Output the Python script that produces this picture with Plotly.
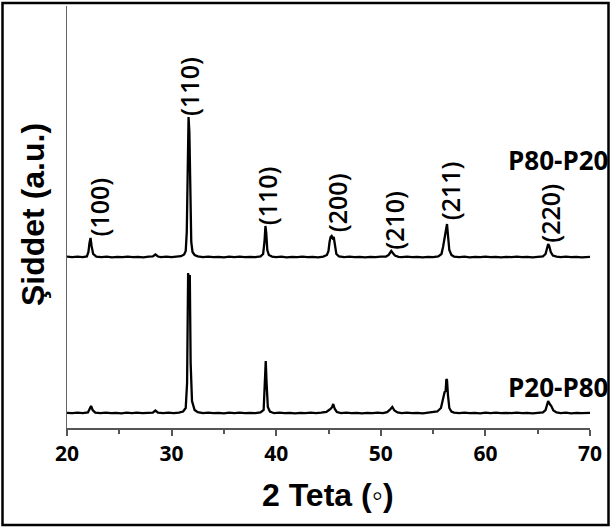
import plotly.graph_objects as go

# ---------------- data ----------------
# P80-P20 (upper pattern): 2-theta positions and intensities above its baseline (a.u.)
p80_x = [20.0, 20.5, 21.0, 21.5, 21.9, 22.05, 22.15, 22.25, 22.35, 22.5, 22.8, 23.3, 23.8, 24.3, 24.8,
         25.3, 25.8, 26.3, 26.8, 27.3, 27.8, 28.2, 28.45, 28.7, 29.0, 29.5, 30.0, 30.5, 30.9, 31.2,
         31.35, 31.45, 31.55, 31.62, 31.7, 31.78, 31.88, 32.0, 32.2, 32.5, 33.0, 33.5, 34.0, 34.5,
         35.0, 35.5, 36.0, 36.5, 37.0, 37.5, 38.0, 38.5, 38.75, 38.88, 38.97, 39.05, 39.15, 39.3,
         39.6, 40.0, 40.5, 41.0, 41.5, 42.0, 42.5, 43.0, 43.5, 44.0, 44.5, 44.85, 45.0, 45.1, 45.2,
         45.3, 45.4, 45.5, 45.6, 45.75, 46.0, 46.5, 47.0, 47.5, 48.0, 48.5, 49.0, 49.5, 50.0, 50.5,
         50.75, 50.9, 51.0, 51.15, 51.35, 51.7, 52.0, 52.5, 53.0, 53.5, 54.0, 54.5, 55.0, 55.5,
         55.8, 55.95, 56.05, 56.15, 56.25, 56.33, 56.42, 56.55, 56.75, 57.0, 57.5, 58.0, 58.5, 59.0,
         59.5, 60.0, 60.5, 61.0, 61.5, 62.0, 62.5, 63.0, 63.5, 64.0, 64.5, 65.0, 65.5, 65.75, 65.9,
         66.0, 66.1, 66.25, 66.45, 66.8, 67.2, 67.7, 68.2, 68.7, 69.2, 69.6, 70.0]
p80_y = [0.3, -0.2, 0.3, -0.2, 0.6, 5, 14, 19, 11, 3, 0.4, -0.2, 0.3, -0.3, 0.2,
         -0.2, 0.3, -0.2, 0.2, -0.3, 0.3, 0.6, 2.5, 0.5, -0.2, 0.3, -0.2, 0.3, 0.8, 2.5,
         6, 25, 90, 140, 125, 60, 15, 5, 2, 0.6, -0.2, 0.3, -0.2, 0.2,
         -0.3, 0.3, -0.2, 0.3, -0.2, 0.2, -0.2, 0.6, 3, 15, 31, 24, 7, 2,
         0.4, -0.2, 0.3, -0.3, 0.2, -0.2, 0.3, -0.2, 0.2, -0.3, 0.4, 2, 6, 15, 20,
         21, 19, 20, 12, 3, 0.6, -0.2, 0.3, -0.2, 0.2, -0.3, 0.2, -0.2, 0.3, 0.4,
         2, 5, 6, 4, 1.5, 0.2, -0.2, 0.3, -0.2, 0.2, -0.3, 0.2, -0.2, 0.6,
         3, 10, 17, 24, 32, 33, 22, 7, 2, 0.4, -0.2, 0.3, -0.3, 0.2,
         -0.2, 0.3, -0.2, 0.2, -0.3, 0.2, -0.2, 0.3, -0.2, 0.2, -0.3, 0.3, 0.6, 3, 9,
         13, 11, 5, 1.5, 0.3, -0.2, 0.3, -0.2, 0.2, -0.3, 0.2, 0.1]

# P20-P80 (lower pattern)
p20_x = [20.0, 20.5, 21.0, 21.5, 22.0, 22.15, 22.3, 22.45, 22.7, 23.2, 23.7, 24.2, 24.7, 25.2,
         25.7, 26.2, 26.7, 27.2, 27.7, 28.2, 28.45, 28.7, 29.2, 29.7, 30.2, 30.7, 31.1, 31.35,
         31.48, 31.58, 31.66, 31.74, 31.82, 31.95, 32.2, 32.5, 33.0, 33.5, 34.0, 34.5, 35.0, 35.5,
         36.0, 36.5, 37.0, 37.5, 38.0, 38.5, 38.8, 38.92, 39.0, 39.08, 39.2, 39.4, 39.8, 40.3,
         40.8, 41.3, 41.8, 42.3, 42.8, 43.3, 43.8, 44.3, 44.8, 45.05, 45.2, 45.35, 45.45, 45.6,
         45.8, 46.2, 46.7, 47.2, 47.7, 48.2, 48.7, 49.2, 49.7, 50.2, 50.6, 50.85, 51.0, 51.1,
         51.3, 51.6, 52.0, 52.5, 53.0, 53.5, 54.0, 54.5, 55.0, 55.4, 55.75, 55.9, 56.0, 56.1,
         56.2, 56.27, 56.33, 56.42, 56.55, 56.75, 57.0, 57.5, 58.0, 58.5, 59.0, 59.5, 60.0, 60.5,
         61.0, 61.5, 62.0, 62.5, 63.0, 63.5, 64.0, 64.5, 65.0, 65.5, 65.75, 65.9, 66.0, 66.15,
         66.3, 66.5, 66.8, 67.2, 67.7, 68.2, 68.7, 69.2, 69.6, 70.0]
p20_y = [0.2, -0.2, 0.3, -0.2, 0.6, 4, 7, 3, 0.4, -0.2, 0.3, -0.2, 0.2, -0.3,
         0.3, -0.2, 0.3, -0.2, 0.2, 0.4, 2.5, 0.4, -0.2, 0.3, -0.2, 0.3, 1.5, 5,
         30, 140, 132, 138, 50, 12, 3, 0.8, -0.2, 0.3, -0.2, 0.2, -0.3, 0.3,
         -0.2, 0.3, -0.2, 0.2, -0.2, 0.6, 3, 25, 52, 30, 6, 1.5, -0.2, 0.3,
         -0.2, 0.2, -0.3, 0.2, -0.2, 0.3, -0.2, 0.3, 1, 3, 4, 6, 9, 4,
         1, -0.2, 0.3, -0.2, 0.2, -0.3, 0.2, -0.2, 0.3, -0.2, 0.8, 3, 5, 6,
         2.5, 0.5, -0.2, 0.3, -0.2, 0.2, -0.3, 0.3, 0.4, 1.5, 5, 12, 19, 21,
         22, 34, 33, 18, 5, 1.5, 0.4, -0.2, 0.3, -0.2, 0.2, -0.3, 0.3, -0.2,
         0.3, -0.2, 0.2, -0.2, 0.3, -0.2, 0.2, -0.3, 0.3, 0.6, 3, 8, 12, 9,
         7, 2.5, 0.5, -0.2, 0.3, -0.3, 0.2, -0.2, 0.3, 0.1]

p80_offset = 171   # vertical stacking offset of the upper pattern
p20_offset = 15    # vertical stacking offset of the lower pattern

peak_labels = ["(100)", "(110)", "(110)", "(200)", "(210)", "(211)", "(220)"]
peak_pos = [22.2, 31.7, 39.0, 45.3, 51.0, 56.3, 66.0]

series_names = ["P80-P20", "P20-P80"]
x_ticks = [20, 30, 40, 50, 60, 70]

# ---------------- layout geometry (pixels) ----------------
W, H = 611, 528
ML, MR, MT, MB = 67, 21, 6, 100
PW, PH = W - ML - MR, H - MT - MB


def px_x(px):
    return (px - ML) / PW


def px_y(py):
    return (H - MB - py) / PH


fig = go.Figure()
fig.add_trace(go.Scatter(x=p80_x, y=[v + p80_offset for v in p80_y], mode="lines",
                         line=dict(color="black", width=2.3), name=series_names[0],
                         showlegend=False))
fig.add_trace(go.Scatter(x=p20_x, y=[v + p20_offset for v in p20_y], mode="lines",
                         line=dict(color="black", width=2.3), name=series_names[1],
                         showlegend=False))

# peak labels (rotated), placed just above the upper pattern's peaks
label_dx = [8, -1, 1, 5, 2, 3, 1]      # pixel nudges
label_dy = [0, 0, 0, 3, 0, 3, 0]
label_font = dict(family="Open Sans", size=25, color="black", weight=600)
for lab, pos, dx, dy in zip(peak_labels, peak_pos, label_dx, label_dy):
    near = [v for xv, v in zip(p80_x, p80_y) if abs(xv - pos) <= 0.4]
    top = max(near) + p80_offset
    fig.add_annotation(x=pos, y=top, text=lab, textangle=-90, showarrow=False,
                       xanchor="center", yanchor="bottom", xshift=dx, yshift=dy,
                       font=label_font, borderpad=0)

# series names
name_font = dict(family="Open Sans", size=26, color="black", weight="bold")
fig.add_annotation(xref="paper", yref="paper", x=px_x(610), y=px_y(160), text=series_names[0],
                   showarrow=False, xanchor="right", yanchor="middle", font=name_font)
fig.add_annotation(xref="paper", yref="paper", x=px_x(610), y=px_y(387), text=series_names[1],
                   showarrow=False, xanchor="right", yanchor="middle", font=name_font)

# axis titles
fig.add_annotation(xref="paper", yref="paper", x=px_x(33), y=px_y(215), text="Şiddet (a.u.)",
                   textangle=-90, showarrow=False, xanchor="center", yanchor="middle",
                   font=dict(family="Liberation Sans", size=32, color="black", weight="bold"))
fig.add_annotation(xref="paper", yref="paper", x=px_x(328), y=px_y(495), text="2 Teta (◦)",
                   showarrow=False, xanchor="center", yanchor="middle",
                   font=dict(family="Liberation Sans", size=32, color="black", weight="bold"))

# outer frame
fig.add_shape(type="rect", xref="paper", yref="paper",
              x0=px_x(2.5), x1=px_x(608.5), y0=px_y(525), y1=px_y(3),
              line=dict(color="black", width=2.5), fillcolor="rgba(0,0,0,0)", layer="above")

fig.update_layout(
    width=W, height=H,
    margin=dict(l=ML, r=MR, t=MT, b=MB),
    paper_bgcolor="white", plot_bgcolor="white",
    showlegend=False,
)
fig.update_xaxes(range=[20, 70], tickvals=x_ticks, ticktext=[str(t) for t in x_ticks],
                 showline=True, linecolor="#555555", linewidth=1.5, mirror=False,
                 ticks="outside", ticklen=6, tickwidth=1.5, tickcolor="#555555",
                 minor=dict(dtick=5, ticks="outside", ticklen=4, tickwidth=1.5, tickcolor="#555555"),
                 tickfont=dict(family="Open Sans", size=21, color="black", weight="bold"),
                 ticklabelstandoff=0,
                 showgrid=False, zeroline=False)
fig.update_yaxes(range=[0, PH], showline=True, linecolor="#666666", linewidth=1.2,
                 showticklabels=False, ticks="", showgrid=False, zeroline=False)

fig.write_html("out.html")
